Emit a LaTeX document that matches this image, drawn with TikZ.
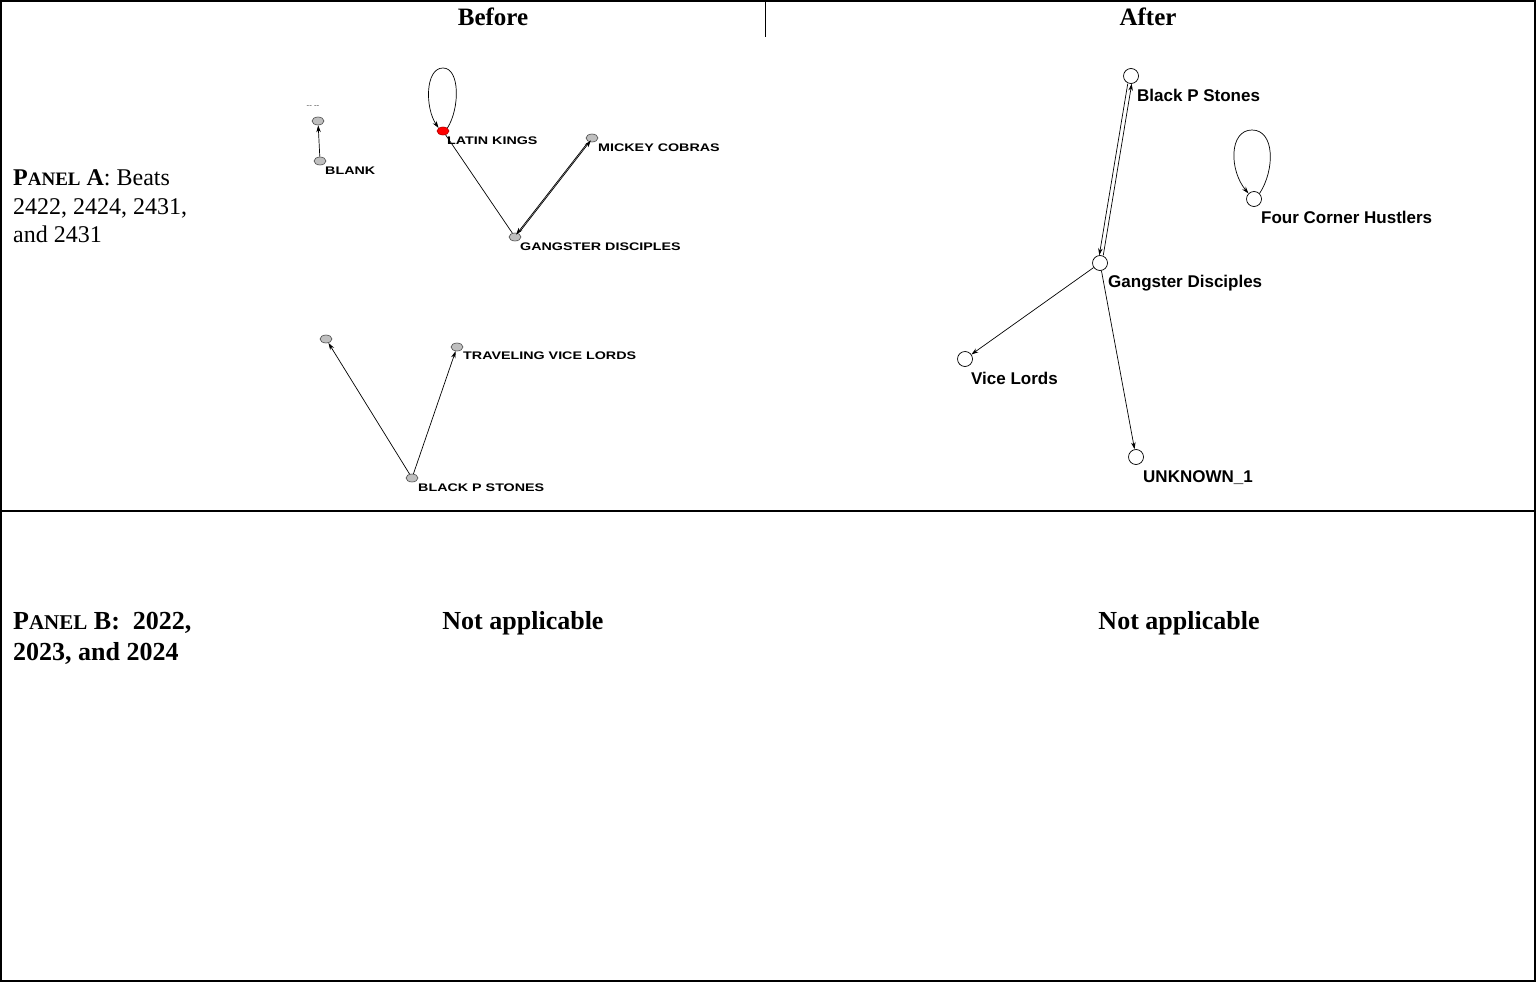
\documentclass[tikz,border=0pt]{standalone}
\usepackage{fontspec}
\setmainfont{Liberation Serif}
\newfontfamily\labfont{Liberation Sans}
\newfontfamily\tinylab[FakeStretch=1.3,BoldFeatures={FakeStretch=1.3}]{Liberation Sans}
\usetikzlibrary{arrows.meta,shapes.geometric}
\begin{document}
\begin{tikzpicture}[x=1pt,y=-1pt,
  bnode/.style={ellipse,draw=black!70,fill=black!25,line width=0.6pt,minimum width=12pt,minimum height=8pt,inner sep=0pt},
  anode/.style={circle,draw=black,fill=white,line width=0.7pt,minimum size=15pt,inner sep=0pt},
  blab/.style={anchor=base west,inner sep=0pt,font=\tinylab\bfseries\fontsize{11}{11}\selectfont},
  alab/.style={anchor=base west,inner sep=0pt,font=\labfont\bfseries\fontsize{17}{17}\selectfont},
  ptext/.style={anchor=base west,inner sep=0pt,font=\fontsize{24}{24}\selectfont},
  qtext/.style={anchor=base west,inner sep=0pt,font=\bfseries\fontsize{26}{26}\selectfont},
  head/.style={anchor=base,inner sep=0pt,font=\bfseries\fontsize{25}{25}\selectfont},
  edge/.style={line width=0.7pt,-{Stealth[length=7pt,width=4.5pt]}},
  plain/.style={line width=0.7pt}
]
\useasboundingbox (0,0) rectangle (1536,982);
% frame
\draw[line width=1.3pt] (1,1) rectangle (1535,981);
\draw[line width=1.3pt] (1,511) -- (1535,511);
\draw[line width=1pt] (765,1) -- (765,37);
% headers
\node[head] (hbefore) at (493,26) {Before};
\node[head] (hafter) at (1148,26) {After};
% panel A text
\node[ptext] (pa1) at (13,185) {\textbf{P{\fontsize{19}{19}\selectfont ANEL} A}: Beats};
\node[ptext] (pa2) at (13,214) {2422, 2424, 2431,};
\node[ptext] (pa3) at (13,242) {and 2431};
% panel B text
\node[qtext] (pb1) at (13,629) {P{\fontsize{21}{21}\selectfont ANEL} B:\ \ 2022,};
\node[qtext] (pb2) at (13,660) {2023, and 2024};
\node[qtext,anchor=base] (na1) at (523,629) {Not applicable};
\node[qtext,anchor=base] (na2) at (1179,629) {Not applicable};

% ---------- Before network ----------
\node[bnode] (u1) at (318,121) {};
\node[anchor=base,inner sep=0pt,font=\tinylab\bfseries\fontsize{6}{6}\selectfont,text=black!60] (u1l) at (313,107) {-- --};
\node[bnode] (blank) at (320,161) {};
\node[blab] (blankl) at (325,174) {BLANK};
\node[bnode,fill=red,draw=red!70!black] (lk) at (443,131) {};
\node[blab] (lkl) at (447,144) {LATIN KINGS};
\node[bnode] (mc) at (592,138) {};
\node[blab] (mcl) at (598,151) {MICKEY COBRAS};
\node[bnode] (gd) at (515,237) {};
\node[blab] (gdl) at (520,250) {GANGSTER DISCIPLES};
\node[bnode] (u2) at (326,339) {};
\node[bnode] (tvl) at (457,347) {};
\node[blab] (tvll) at (463,359) {TRAVELING VICE LORDS};
\node[bnode] (bps) at (412,478) {};
\node[blab] (bpsl) at (418,491) {BLACK P STONES};

\coordinate (lktop) at (443,68);
\coordinate (fctop) at (1252,130);

\draw[edge] (blank) -- (u1);
\draw[edge] (lk.north east) .. controls (460,108) and (460,68) .. (lktop) .. controls (425,68) and (425,108) .. (lk.north west);
\draw[plain] (lk) -- (gd);
\draw[edge,transform canvas={xshift=1.8pt,yshift=1.4pt}] (gd) -- (mc);
\draw[edge,transform canvas={xshift=-1.8pt,yshift=-1.4pt}] (mc) -- (gd);
\draw[edge] (bps) -- (u2);
\draw[edge] (bps) -- (tvl);

% ---------- After network ----------
\node[anode] (abps) at (1131,76) {};
\node[alab] (abpsl) at (1137,101) {Black P Stones};
\node[anode] (afch) at (1254,199) {};
\node[alab] (afchl) at (1261,223) {Four Corner Hustlers};
\node[anode] (agd) at (1100,263) {};
\node[alab] (agdl) at (1108,287) {Gangster Disciples};
\node[anode] (avl) at (965,359) {};
\node[alab] (avll) at (971,384) {Vice Lords};
\node[anode] (aunk) at (1136,457) {};
\node[alab] (aunkl) at (1143,482) {UNKNOWN\_1};

\draw[edge,transform canvas={xshift=2pt}] (agd) -- (abps);
\draw[edge,transform canvas={xshift=-2pt}] (abps) -- (agd);
\draw[edge] (agd) -- (avl);
\draw[edge] (agd) -- (aunk);
\draw[edge] (afch.north east) .. controls (1275,170) and (1275,130) .. (fctop) .. controls (1229,130) and (1229,170) .. (afch.north west);
\end{tikzpicture}
\end{document}
